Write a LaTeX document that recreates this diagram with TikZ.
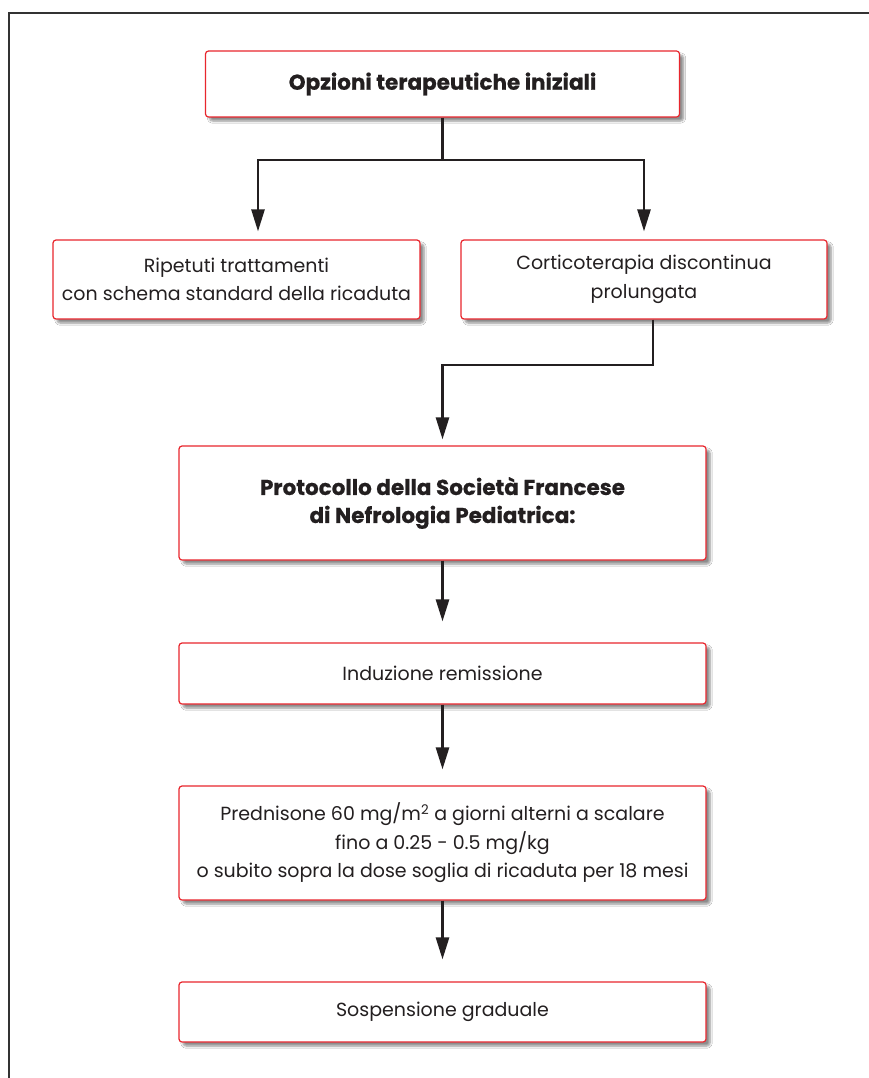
\documentclass[tikz,border=0pt]{standalone}
\usepackage{fontspec}
\setmainfont{Poppins}[BoldFeatures={FakeBold=0.6}]
\usetikzlibrary{arrows.meta,shadows.blur}
\definecolor{boxred}{HTML}{E8262D}
\definecolor{ink}{HTML}{231F20}
\tikzset{
  box/.style={draw=boxred, line width=1.2pt, fill=white, rounded corners=3pt,
    blur shadow={shadow xshift=4pt, shadow yshift=-4pt, shadow blur steps=6, shadow opacity=45},
    align=center, text=ink, inner sep=0pt, font=\fontsize{19}{28.5}\selectfont},
  boldbox/.style={box, font=\fontsize{21.5}{28}\selectfont\bfseries},
  link/.style={draw=ink, line width=2.6pt},
  arr/.style={link, -{Triangle[length=22pt,width=13pt]}},
}
\begin{document}
\begin{tikzpicture}[x=1pt,y=-1pt]
\useasboundingbox (0,0) rectangle (868,1078);
\fill[white] (0,0) rectangle (868,1078);
\draw[line width=2pt, black!80] (870,13) -- (9,13) -- (9,1080);

\node[boldbox, minimum width=474pt, minimum height=66pt] (b1) at (442.5,84) {Opzioni terapeutiche iniziali};
\node[box, minimum width=367pt, minimum height=79pt] (b2) at (236.5,279.5) {Ripetuti trattamenti\\con schema standard della ricaduta};
\node[box, minimum width=366pt, minimum height=79pt] (b3) at (644,279.5) {Corticoterapia discontinua\\prolungata};
\node[boldbox, minimum width=527pt, minimum height=114pt] (b4) at (442.5,503) {Protocollo della Società Francese\\di Nefrologia Pediatrica:};
\node[box, minimum width=527pt, minimum height=61pt] (b5) at (442.5,673.5) {Induzione remissione};
\node[box, minimum width=527pt, minimum height=114pt] (b6) at (442.5,843) {Prednisone 60 mg/m\textsuperscript{2} a giorni alterni a scalare\\fino a 0.25 - 0.5 mg/kg\\o subito sopra la dose soglia di ricaduta per 18 mesi};
\node[box, minimum width=527pt, minimum height=60pt] (b7) at (442.5,1012) {Sospensione graduale};

\coordinate (j1) at (442.5,160);
\coordinate (j2) at (653,365);
\draw[link] (b1.south) -- (j1);
\draw[arr, shorten >=8pt] (j1) -| ([xshift=21.5pt]b2.north);
\draw[arr, shorten >=8pt] (j1) -| (b3.north);
\draw[arr, shorten >=6pt] ([xshift=9pt]b3.south) -- (j2) -| (b4.north);
\draw[arr, shorten >=21pt] (b4.south) -- (b5.north);
\draw[arr, shorten >=16pt] (b5.south) -- (b6.north);
\draw[arr, shorten >=22pt] (b6.south) -- (b7.north);
\end{tikzpicture}
\end{document}
